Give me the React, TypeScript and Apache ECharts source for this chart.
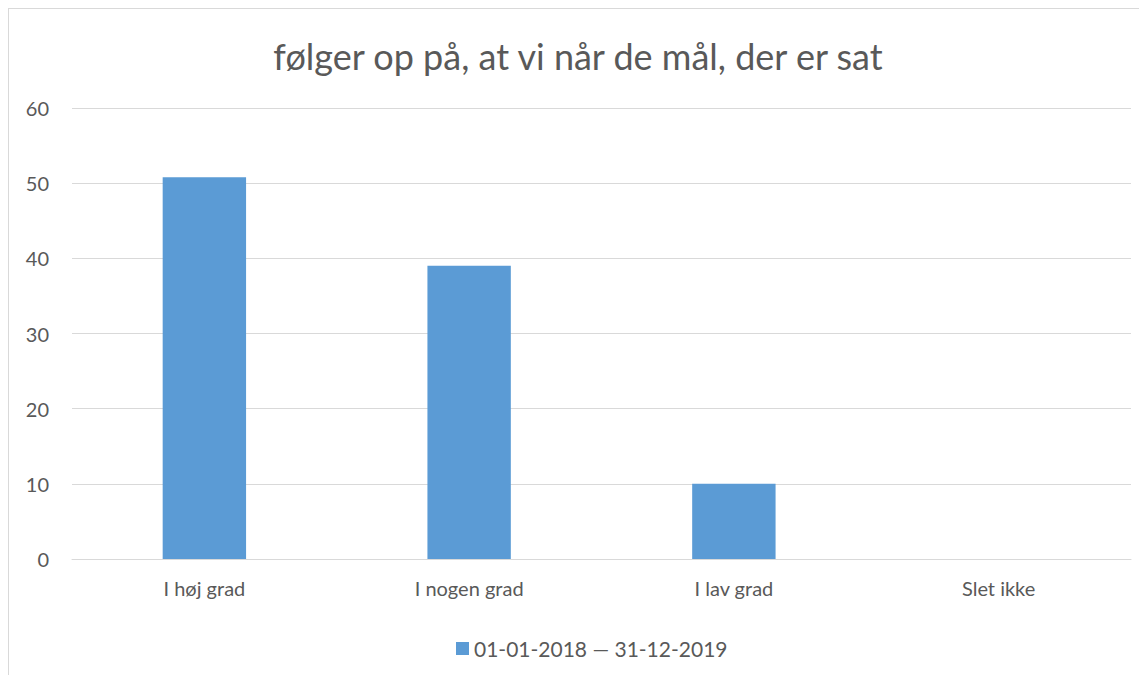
import React, { useEffect, useRef } from "react";
import * as echarts from "echarts";

const titleText = "følger op på, at vi når de mål, der er sat";
const categories = ["I høj grad", "I nogen grad", "I lav grad", "Slet ikke"];
const seriesName = "01-01-2018 — 31-12-2019";
const values = [50.8, 39, 10, 0];
const yMin = 0;
const yMax = 60;
const yStep = 10;

const FONT = "Lato, 'Open Sans', sans-serif";
const TEXT = "#595959";

export default function App() {
  const ref = useRef<HTMLDivElement>(null);
  useEffect(() => {
    if (!ref.current) return;
    const chart = echarts.init(ref.current, undefined, { renderer: "svg" });
    chart.setOption({
      animation: false,
      backgroundColor: "#ffffff",
      title: {
        text: titleText,
        left: "center",
        top: 24,
        textStyle: { color: TEXT, fontFamily: FONT, fontSize: 36, fontWeight: "normal" },
      },
      grid: { left: 63, right: 16, top: 99, bottom: 116, containLabel: false },
      legend: {
        left: 442,
        top: 624,
        itemWidth: 13,
        itemHeight: 13,
        itemGap: 10,
        icon: "rect",
        textStyle: { color: TEXT, fontFamily: FONT, fontSize: 21 },
        data: [seriesName],
      },
      xAxis: {
        type: "category",
        data: categories,
        axisLine: { show: true, lineStyle: { color: "#d9d9d9", width: 1 } },
        axisTick: { show: false },
        axisLabel: { color: TEXT, fontFamily: FONT, fontSize: 20, margin: 19 },
      },
      yAxis: {
        type: "value",
        min: yMin,
        max: yMax,
        interval: yStep,
        axisLine: { show: false },
        axisTick: { show: false },
        axisLabel: { color: TEXT, fontFamily: FONT, fontSize: 20, margin: 23 },
        splitLine: { lineStyle: { color: "#d9d9d9", width: 1 } },
      },
      series: [
        {
          name: seriesName,
          type: "bar",
          data: values,
          barWidth: "31.5%",
          itemStyle: { color: "#5b9bd5" },
        },
      ],
    });
    return () => chart.dispose();
  }, []);
  return (
    <div
      style={{
        width: 1139,
        height: 667,
        borderTop: "1px solid #d9d9d9",
        borderLeft: "1px solid #d9d9d9",
        boxSizing: "border-box",
        overflow: "hidden",
      }}
    >
      <div ref={ref} style={{ width: 1138, height: 666 }} />
    </div>
  );
}
